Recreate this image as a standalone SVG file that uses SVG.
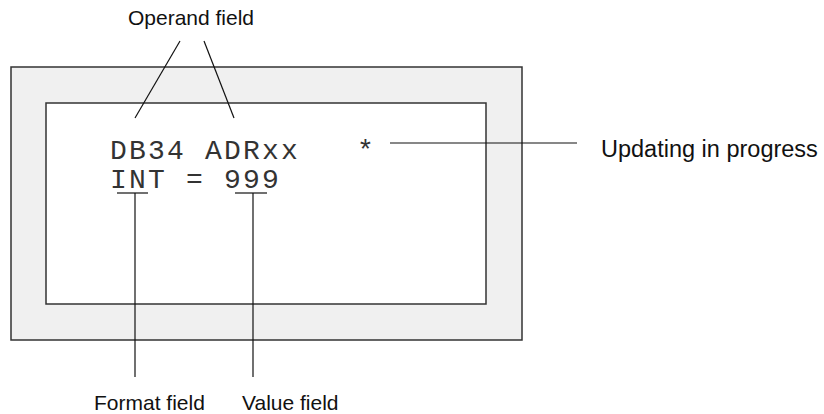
<svg xmlns="http://www.w3.org/2000/svg" width="824" height="414" viewBox="0 0 824 414">
<style>
.frame{fill:#f0f0f0;stroke:#333;stroke-width:1.5}
.screen{fill:#fff;stroke:#333;stroke-width:1.5}
.mono{font-family:"Liberation Mono","Courier New",monospace;font-size:28px;letter-spacing:2.2px;fill:#333}
.lbl{font-family:"Liberation Sans",Arial,sans-serif;font-size:21px;fill:#111}
.ln{stroke:#111;stroke-width:1.2;fill:none}
</style>
<g id="display">
<rect class="frame" x="11" y="67" width="511" height="273"/>
<rect class="screen" x="46" y="103" width="440" height="201"/>
<text class="mono" x="110" y="159" xml:space="preserve">DB34 ADRxx   *</text>
<text class="mono" x="110" y="188" xml:space="preserve">INT = 999</text>
</g>
<g id="labels">
<text class="lbl" x="191" y="25" text-anchor="middle">Operand field</text>
<text class="lbl" x="601" y="157" style="font-size:23.5px">Updating in progress</text>
<text class="lbl" x="94" y="410">Format field</text>
<text class="lbl" x="242" y="410">Value field</text>
</g>
<g id="connectors">
<line class="ln" x1="180" y1="41" x2="135" y2="118"/>
<line class="ln" x1="204" y1="41" x2="234" y2="118"/>
<line class="ln" x1="390" y1="143" x2="577" y2="143"/>
<line class="ln" x1="117" y1="193" x2="148" y2="193"/>
<line class="ln" x1="235" y1="193" x2="267" y2="193"/>
<line class="ln" x1="135" y1="193" x2="135" y2="377"/>
<line class="ln" x1="253" y1="193" x2="253" y2="377"/>
</g>
</svg>
